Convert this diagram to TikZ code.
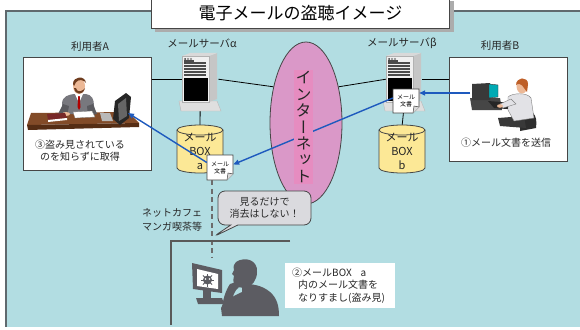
\documentclass[tikz,border=0pt]{standalone}
\usepackage{fontspec}
\setmainfont{Noto Sans CJK JP}
\newfontfamily\vjp[RawFeature=+vert]{Noto Sans CJK JP}
\usetikzlibrary{shapes.geometric,shapes.callouts,arrows.meta}

\definecolor{panelbg}{RGB}{178,221,226}
\definecolor{panelline}{RGB}{95,105,110}
\definecolor{netpink}{RGB}{218,152,200}
\definecolor{netband}{RGB}{230,140,192}
\definecolor{cylfill}{RGB}{252,232,150}
\definecolor{mailblue}{RGB}{30,90,190}
\definecolor{outline}{RGB}{70,70,70}
\definecolor{bubblefill}{RGB}{218,218,222}
\definecolor{silh}{RGB}{92,92,98}
\definecolor{skin}{RGB}{236,184,150}
\definecolor{hairA}{RGB}{110,60,30}
\definecolor{hairB}{RGB}{190,95,40}
\definecolor{suitgray}{RGB}{120,120,126}
\definecolor{deskbrown}{RGB}{130,75,40}
\definecolor{deskdark}{RGB}{85,45,20}
\definecolor{bookred}{RGB}{120,40,40}
\definecolor{shirt}{RGB}{226,226,230}
\definecolor{screen}{RGB}{0,170,180}

\tikzset{
  lbl/.style={font=\fontsize{10}{12.5}\selectfont, text=black!85, inner sep=0pt},
  conn/.style={draw=black, line width=0.8pt},
  mailarrow/.style={draw=mailblue, line width=1.4pt, -{Triangle[length=6pt,width=5pt]}},
  whitebox/.style={draw=outline, fill=white, line width=0.8pt, inner sep=0pt, anchor=north west},
  paper/.style={draw=outline, fill=white, line width=0.6pt},
  doctext/.style={font=\fontsize{6}{7}\selectfont, align=center, inner sep=0pt,
    minimum width=26pt, minimum height=25pt},
  peekline/.style={draw=gray!85!black, line width=1.5pt, dash pattern=on 5pt off 3.5pt},
  roomline/.style={draw=black!65, line width=1.3pt},
  servertower/.pic={
    % base plate
    \fill[gray!25] (-3,48) -- (35,48) -- (39,58) -- (-1,58) -- cycle;
    \draw[gray!55, line width=0.4pt] (-3,48) -- (35,48) -- (39,58) -- (-1,58) -- cycle;
    % body: front, side, top
    \fill[gray!12] (0,3) rectangle (27,49);
    \fill[gray!45] (27,3) -- (35,0) -- (35,46) -- (27,49) -- cycle;
    \fill[gray!30] (0,3) -- (8,0) -- (35,0) -- (27,3) -- cycle;
    \draw[gray!60, line width=0.4pt] (0,3) rectangle (27,49);
    % front details
    \fill[black!80] (3,6) circle [radius=1pt];
    \draw[black!70, line width=0.3pt] (6,6) circle [radius=1pt] (9,6) circle [radius=1pt];
    \foreach \yy in {10,13,16,19,22} {\draw[black!70, line width=1.1pt] (2,\yy) -- (24,\yy);}
    \draw[black!70, line width=1.1pt] (2,8) -- (12,8);
    \fill[black] (2,25) rectangle (26,48);
  },
  storage/.pic={
    \path[fill=cylfill, draw=outline, line width=0.8pt]
      (-23,0) -- (-23,38) arc[start angle=180, end angle=360, x radius=23pt, y radius=5pt]
      -- (23,0) arc[start angle=0, end angle=180, x radius=23pt, y radius=5pt] -- cycle;
    \draw[outline, line width=0.8pt] (-23,0) arc[start angle=180, end angle=360, x radius=23pt, y radius=5pt];
  }
}

\begin{document}
\begin{tikzpicture}[x=1pt, y=-1pt]
\useasboundingbox (0,0) rectangle (580,329);
\clip (0,0) rectangle (580,329);

% background panel
\fill[panelbg] (6,11) rectangle (592,327);
\draw[panelline, line width=1.2pt] (592,11) -- (6,11) -- (6,327);

% title plate with shadow
\fill[gray!65] (155,1) rectangle (454,32);
\node (title) [whitebox, minimum width=298pt, minimum height=31pt] at (151,-3)
  {\fontsize{17}{20}\selectfont 電子メールの盗聴イメージ};

% captions
\node (labA)  [lbl, font=\fontsize{10.5}{12}\selectfont] at (90,47) {利用者A};
\node (labSa) [lbl, font=\fontsize{10.5}{12}\selectfont] at (202,43) {メールサーバα};
\node (labSb) [lbl, font=\fontsize{10.5}{12}\selectfont] at (402,43) {メールサーバβ};
\node (labB)  [lbl, font=\fontsize{10.5}{12}\selectfont] at (500,46) {利用者B};

% user frames
\node (boxA) [whitebox, minimum width=128pt, minimum height=113pt] at (23,57) {};
\node (boxB) [whitebox, minimum width=118pt, minimum height=104pt] at (449,57) {};

% user A at his desk
\fill[deskbrown] (31,113) -- (128,112) -- (139,123) -- (27,125) -- cycle;
\fill[deskdark] (27,125) -- (139,123) -- (139,127) -- (28,130) -- cycle;
\fill[suitgray] (62,114) -- (62,103) .. controls (63,96) and (68,95) .. (74,94) -- (86,94)
  .. controls (92,95) and (94,99) .. (94,106) -- (94,114) -- cycle;
\fill[white] (75,94) -- (79,103) -- (83,94) -- cycle;
\fill[red!70!black] (78.3,96) -- (79.7,96) -- (80.5,107) -- (79,110) -- (77.5,107) -- cycle;
\fill[skin] (79,86) ellipse [x radius=6pt, y radius=8pt];
\fill[hairA] (73,84) .. controls (73,76) and (85,75) .. (86,83) -- (84,81)
  .. controls (80,79) and (76,80) .. (74,86) -- cycle;
\fill[hairA] (74,88) .. controls (75,95) and (83,96) .. (85,88) -- (83,90)
  .. controls (80,92) and (77,92) .. (76,88) -- cycle;
\fill[suitgray!75!black] (63,104) -- (58,114) -- (67,116) -- (69,106) -- cycle;
\fill[suitgray!75!black] (93,104) -- (97,114) -- (88,116) -- (87,106) -- cycle;
\fill[skin] (66,114) ellipse [x radius=4pt, y radius=2pt];
\fill[skin] (89,114) ellipse [x radius=4pt, y radius=2pt];
\fill[bookred] (47,114) -- (65,113) -- (67,118) -- (48,120) -- cycle;
\fill[white] (48,120) -- (67,118) -- (67,120) -- (48,122) -- cycle;
\fill[white] (73,112) -- (92,111) -- (95,117) -- (75,118) -- cycle;
\draw[gray, line width=0.3pt] (73,112) -- (92,111) -- (95,117) -- (75,118) -- cycle;
\fill[gray!55] (100,113) -- (110,113) -- (113,121) -- (102,121) -- cycle;
\fill[black!85] (115,101) -- (126,93) -- (131,97) -- (129,118) -- (120,125) -- (113,119) -- cycle;
\fill[black!60] (118,104) -- (126,98) -- (127,116) -- (119,121) -- cycle;
\coordinate (pcA) at (128,113);

\node (noteA) [lbl, align=center] at (80,150.5) {③盗み見されている\\のを知らずに取得};

% user B at his computer
\fill[gray!35!black] (520,112) .. controls (532,108) and (538,114) .. (536,128) -- (520,131) -- cycle;
\fill[gray!45!black] (498,118) -- (524,116) -- (526,128) -- (500,126) -- cycle;
\fill[gray!55!black] (470,98) -- (500,98) -- (502,110) -- (472,110) -- cycle;
\fill[gray!45!black] (472,84) -- (490,83) -- (490,100) -- (472,100) -- cycle;
\filldraw[fill=screen, draw=black!80, line width=0.4pt] (489,84) -- (498,85) -- (498,97) -- (489,98) -- cycle;
\fill[gray!30!black] (488,101) -- (514,103) -- (520,110) -- (494,108) -- cycle;
\filldraw[fill=shirt, draw=gray, line width=0.4pt] (508,97) .. controls (512,93) and (527,92) .. (531,98)
  -- (534,118) -- (514,121) -- (508,110) -- cycle;
\filldraw[fill=shirt, draw=gray, line width=0.4pt] (511,99) -- (500,104) -- (503,108) -- (516,104) -- cycle;
\fill[skin] (500,106) ellipse [x radius=3pt, y radius=1.8pt];
\fill[skin] (522,86) ellipse [x radius=5.5pt, y radius=7.5pt];
\fill[hairB] (516,85) .. controls (516,77) and (528,76) .. (528,84) -- (527,92) -- (524,88)
  .. controls (522,84) and (518,83) .. cycle;
\coordinate (pcB) at (470,93);

\node (noteB) [lbl] at (506,143) {①メール文書を送信};

% mail servers (named frames for the connectors)
\node (srvA) [inner sep=0pt, minimum width=36pt, minimum height=52pt, anchor=north west] at (182,53) {};
\node (srvB) [inner sep=0pt, minimum width=36pt, minimum height=52pt, anchor=north west] at (386,53) {};

% internet cloud
\node (net) [ellipse, draw=outline, fill=netpink, line width=0.8pt, inner sep=0pt,
  minimum width=72pt, minimum height=162pt] at (306,123) {};

% mailbox stores
\node (cylA) [lbl, align=center, font=\fontsize{11}{14}\selectfont, minimum width=46pt, minimum height=48pt] at (200,151) {};
\node (cylB) [lbl, align=center, font=\fontsize{11}{14}\selectfont, minimum width=46pt, minimum height=48pt] at (402,151) {};

% network wiring
\draw[conn] (boxA.east |- srvA.west) -- (srvA.west);
\draw[conn] (srvA.east) -- (net.132);
\draw[conn] (net.48) -- (srvB.west);
\draw[conn] (srvB.east) -- (boxB.west |- srvB.east);
\draw[conn] (srvA.south) -- (cylA.north);
\draw[conn] (srvB.south) -- (cylB.north);

\pic at (srvA.north west) {servertower};
\pic at (srvB.north west) {servertower};
\pic at (200,130) {storage};
\pic at (402,130) {storage};
\node (cylAtxt) [lbl, align=center, font=\fontsize{11}{14}\selectfont] at (cylA) {メール\\BOX\\a};
\node (cylBtxt) [lbl, align=center, font=\fontsize{11}{14}\selectfont] at (cylB) {メール\\BOX\\b};

% mail documents
\path[paper] (393,89) -- (419,89) -- (419,107) -- (413,113) -- (393,113) -- cycle;
\filldraw[fill=gray!30, draw=outline, line width=0.5pt] (419,107) -- (414,106) -- (413,113);
\node (docB) [doctext] at (406,101) {メール\\文書};
\path[paper] (207,155) -- (233,155) -- (233,174) -- (227,180) -- (207,180) -- cycle;
\filldraw[fill=gray!30, draw=outline, line width=0.5pt] (233,174) -- (228,173) -- (227,180);
\node (docA) [doctext] at (220,167.5) {メール\\文書};

% mail flow
\draw[mailarrow] (pcB) -- (pcB -| docB.east);
\draw[mailarrow] ([yshift=3pt]docB.west) -- ([yshift=3pt]docA.east);
\draw[mailarrow] ([yshift=5pt]docA.west) -- (pcA);

% internet label band
\fill[netband] (294,70) rectangle (313,184);
\node (nettext) [font=\vjp\fontsize{16}{16.4}\selectfont, align=center, text=black!85, inner sep=0pt]
  at (303.5,127) {イ\\ン\\タ\\ー\\ネ\\ッ\\ト};

% snooping path
\coordinate (peek) at (212,258);
\draw[peekline] (peek |- docA.south) -- (peek);

\node (bubble) [rectangle callout, rounded corners=7pt, draw=outline, fill=bubblefill, line width=0.8pt,
  minimum width=93pt, minimum height=34pt, inner sep=0pt, align=center,
  font=\fontsize{10}{12.5}\selectfont, text=black!85,
  callout absolute pointer={(213,237)}] at (264.5,208) {見るだけで\\消去はしない！};

\node (cafe) [lbl, align=left, anchor=north west, font=\fontsize{10}{14}\selectfont] at (142,208) {ネットカフェ\\マンガ喫茶等};

% cafe booth walls
\coordinate (roomTR) at (290,241);
\coordinate (roomC) at (171,241);
\coordinate (roomB) at (171,325);
\draw[roomline] (roomTR) -- (roomC) -- (roomB);

% intruder at a screen
\fill[silh] (192,263) -- (222,270) -- (222,293) -- (193,289) -- cycle;
\fill[white] (197,269) -- (218,274) -- (218,289) -- (197,286) -- cycle;
\fill[silh] (207.5,280) circle [radius=4.5pt];
\foreach \a in {0,45,...,315} {\draw[silh, line width=0.8pt] (207.5,280) -- +(\a:6.5pt);}
\fill[white] (205.5,279) circle [radius=0.9pt] (209.5,279) circle [radius=0.9pt];
\fill[silh] (203,290) rectangle (211,299);
\fill[silh] (196,298) -- (222,298) -- (224,304) -- (198,304) -- cycle;
\fill[silh] (236,262) .. controls (245,256) and (258,260) .. (257,272) .. controls (257,280) and (252,286) .. (246,288)
  -- (236,287) .. controls (233,284) and (233,280) .. (234,276) -- (232,274) -- (234,270)
  .. controls (233,266) and (234,264) .. (236,262) -- cycle;
\fill[silh] (242,285) .. controls (250,283) and (262,285) .. (270,292) .. controls (277,298) and (279,306) .. (279,316)
  -- (222,316) -- (221,308) .. controls (224,300) and (234,296) .. (242,292) -- cycle;
\fill[silh] (222,312) .. controls (222,300) and (226,290) .. (230,284) -- (236,282)
  .. controls (240,283) and (240,288) .. (236,290) .. controls (232,296) and (231,304) .. (232,312) -- cycle;

\node (noteC) [fill=white, inner sep=0pt, anchor=north west, minimum width=110pt, minimum height=45pt] at (285,263) {};
\node (noteCtxt) [lbl, align=left, anchor=west] at ([xshift=7pt]noteC.west)
  {②メールBOX\hspace{9pt}a\\\hspace{6pt}内のメール文書を\\\hspace{6pt}なりすまし(盗み見)};
\end{tikzpicture}
\end{document}
